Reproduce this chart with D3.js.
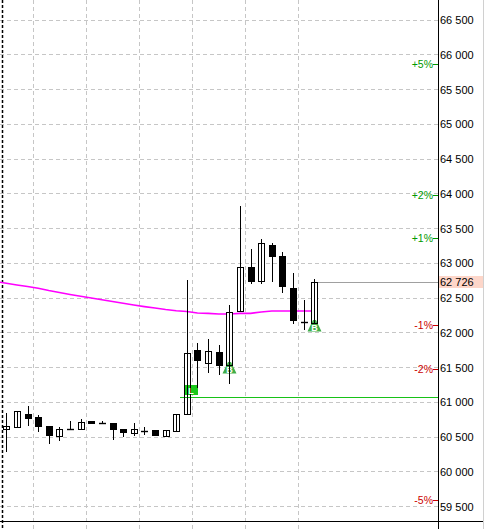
<!DOCTYPE html>
<html>
<head>
<meta charset="utf-8">
<script src="https://cdn.jsdelivr.net/npm/d3@7/dist/d3.min.js"></script>
<style>
  html, body { margin: 0; padding: 0; background: #fff; }
  svg { display: block; }
  text { font-family: "Liberation Sans", Arial, sans-serif; }
</style>
</head>
<body>
<svg id="chart" width="485" height="529"></svg>
<script>
// ---------------- data ----------------
const opens  = [60613,60642,60824,60781,60652,60504,60604,60604,60724,60709,60695,60609,60547,60584,60594,60504,60584,60820,61745,61563,61712,61534,62302,62935,62734,63256,63098,62637,62160,62130];
const highs  = [60843,60868,60940,60814,60652,60637,60724,60748,60724,60728,60695,60609,60695,60642,60594,60590,60820,62752,61846,61904,61817,62393,63817,63199,63342,63281,63155,62853,62465,62771];
const lows   = [60296,60642,60670,60584,60412,60450,60604,60604,60699,60699,60469,60512,60518,60537,60518,60504,60584,60820,61217,61433,61404,61275,62302,62714,62714,62742,62584,62138,62047,62130];
const closes = [60652,60868,60771,60656,60527,60604,60606,60714,60699,60699,60613,60561,60604,60586,60518,60590,60820,61698,61606,61727,61534,62288,62935,62742,63281,63102,62670,62177,62155,62726];
// moving average, first value belongs to the bar before the first visible one
const maStart = -1;
const maValues = [62729,62705,62681,62659,62633,62601,62573,62544,62518,62494,62469,62443,62417,62393,62370,62350,62328,62311,62299,62278,62273,62263,62263,62273,62273,62292,62306,62306,62306,62306,62306];
const yTicks = [59500,60000,60500,61000,61500,62000,62500,63000,63500,64000,64500,65000,65500,66000,66500];
const pctLevels = [5, 2, 1, -1, -2, -5];
const gridBars = [2.5, 7.5, 12.5, 17.5, 22.5, 27.5];
const separatorBar = -0.4;
const lineL = { bar: 17, price: 61069, label: "L" };
const buyMarks = [ { bar: 21, price: 61577, label: "B" }, { bar: 29, price: 62177, label: "B" } ];

// ---------------- layout ----------------
const W = 485, H = 529;
const axisX = 438, axisY = 521, rightEdge = 483;
const x = d3.scaleLinear().domain([0, 29]).range([6.3, 314.3]);
const y = d3.scaleLinear().domain([62000, 66500]).range([332.3, 19.55]);
const lastClose = closes[closes.length - 1];
const fmt = d3.formatLocale({ decimal: ".", thousands: " ", grouping: [3], currency: ["", ""] }).format(",d");
const px = v => Math.round(v) + 0.5;

const svg = d3.select("#chart");
svg.append("defs").append("clipPath").attr("id", "plot")
  .append("rect").attr("x", 0).attr("y", 0).attr("width", axisX).attr("height", axisY);

// grid
const grid = svg.append("g");
grid.selectAll("line.h").data(yTicks).join("line")
  .attr("x1", 0).attr("x2", axisX)
  .attr("y1", d => px(y(d))).attr("y2", d => px(y(d)))
  .attr("stroke", "#c6c6c6").attr("stroke-dasharray", "4,3");
grid.selectAll("line.v").data(gridBars).join("line")
  .attr("x1", d => px(x(d))).attr("x2", d => px(x(d)))
  .attr("y1", 0).attr("y2", H)
  .attr("stroke", "#c6c6c6").attr("stroke-dasharray", "4,3");
grid.append("line")
  .attr("x1", px(x(separatorBar))).attr("x2", px(x(separatorBar)))
  .attr("y1", 0).attr("y2", H)
  .attr("stroke", "#000").attr("stroke-width", 1.5).attr("stroke-dasharray", "3,2");

const plot = svg.append("g").attr("clip-path", "url(#plot)");

// moving average
const maData = maValues.map((v, k) => ({ i: k + maStart, v }));
plot.append("path").datum(maData)
  .attr("fill", "none").attr("stroke", "#ff00ff").attr("stroke-width", 1.6)
  .attr("d", d3.line().x(d => x(d.i)).y(d => y(d.v)));

const bars = opens.map((o, i) => ({ i, o, h: highs[i], l: lows[i], c: closes[i] }));
const bodyTop = d => Math.round(y(Math.max(d.o, d.c))) + 0.5;
const bodyBot = d => Math.round(y(Math.min(d.o, d.c))) + 0.5;

// white body fills
plot.selectAll("rect.wf").data(bars.filter(d => d.c > d.o)).join("rect")
  .attr("x", d => Math.round(x(d.i)) - 3 + 0.5)
  .attr("y", bodyTop)
  .attr("width", 6)
  .attr("height", d => Math.max(1, bodyBot(d) - bodyTop(d)))
  .attr("fill", "#fff");

// horizontal lines
plot.append("line")
  .attr("x1", Math.round(x(lineL.bar)) - 7).attr("x2", axisX)
  .attr("y1", px(y(lineL.price))).attr("y2", px(y(lineL.price)))
  .attr("stroke", "#17c217").attr("stroke-width", 1.2);
plot.append("line")
  .attr("x1", px(x(bars.length - 1))).attr("x2", axisX)
  .attr("y1", px(y(lastClose))).attr("y2", px(y(lastClose)))
  .attr("stroke", "#a0a0a0");

// L marker box
plot.append("rect")
  .attr("x", Math.round(x(lineL.bar)) - 3).attr("y", Math.round(y(lineL.price)) - 12)
  .attr("width", 14).attr("height", 10).attr("fill", "#19c819");

// B triangles
const tri = plot.selectAll("g.tri").data(buyMarks).join("g")
  .attr("transform", d => `translate(${Math.round(x(d.bar)) + 0.5},${Math.round(y(d.price))})`);
tri.append("path").attr("d", "M-1.5,0 L1.5,0 L7,11.5 L-7,11.5 Z").attr("fill", "#3fae49");

// candles: wicks, outlines, black bodies
const cg = plot.selectAll("g.c").data(bars).join("g");
cg.append("line")
  .attr("x1", d => px(x(d.i))).attr("x2", d => px(x(d.i)))
  .attr("y1", d => Math.round(y(d.h))).attr("y2", d => Math.round(y(d.l)) + 1)
  .attr("stroke", "#000");
cg.filter(d => Math.abs(d.c - d.o) < 15).append("line")
  .attr("x1", d => Math.round(x(d.i)) - 3).attr("x2", d => Math.round(x(d.i)) + 4)
  .attr("y1", d => px(y(d.c))).attr("y2", d => px(y(d.c)))
  .attr("stroke", "#000").attr("stroke-width", 1.4);
cg.filter(d => Math.abs(d.c - d.o) >= 15).append("rect")
  .attr("x", d => Math.round(x(d.i)) - 3 + 0.5)
  .attr("y", bodyTop)
  .attr("width", 6)
  .attr("height", d => Math.max(1, bodyBot(d) - bodyTop(d)))
  .attr("fill", d => d.c > d.o ? "none" : "#000")
  .attr("stroke", "#000");

// marker letters
plot.append("text")
  .attr("x", Math.round(x(lineL.bar)) + 4).attr("y", Math.round(y(lineL.price)) - 3.5)
  .attr("text-anchor", "middle").attr("fill", "#fff")
  .attr("font-size", 9).attr("font-weight", "bold").text(lineL.label);
tri.append("text").attr("x", 0).attr("y", 10.5)
  .attr("text-anchor", "middle").attr("fill", "#fff")
  .attr("font-size", 9).attr("font-weight", "bold").text(d => d.label);

// percent levels
const pg = svg.append("g").selectAll("g").data(pctLevels).join("g")
  .attr("transform", d => `translate(0,${Math.round(y(lastClose * (1 + d / 100)))})`);
pg.append("text").attr("x", axisX - 5).attr("y", 0).attr("dy", "0.35em")
  .attr("text-anchor", "end").attr("font-size", 10.5)
  .attr("fill", d => d > 0 ? "#009a00" : "#cc0000")
  .text(d => (d > 0 ? "+" : "") + d + "%");
pg.append("line").attr("x1", axisX - 5).attr("x2", axisX).attr("y1", 0.5).attr("y2", 0.5)
  .attr("stroke", d => d > 0 ? "#009a00" : "#cc0000");

// axes lines
svg.append("line").attr("x1", axisX + 0.5).attr("x2", axisX + 0.5).attr("y1", 0).attr("y2", H)
  .attr("stroke", "#000");
svg.append("line").attr("x1", 0).attr("x2", rightEdge).attr("y1", axisY + 0.5).attr("y2", axisY + 0.5)
  .attr("stroke", "#000");
svg.append("line").attr("x1", rightEdge + 0.5).attr("x2", rightEdge + 0.5).attr("y1", 0).attr("y2", H)
  .attr("stroke", "#d0d0d0");

// price axis
const yAxis = d3.axisRight(y).tickValues(yTicks).tickSize(0).tickPadding(2).tickFormat(fmt);
const ya = svg.append("g").attr("transform", `translate(${axisX},0)`).call(yAxis);
ya.select(".domain").remove();
ya.selectAll("text").attr("font-size", 11).attr("fill", "#000")
  .attr("font-family", "'Liberation Sans', Arial, sans-serif").attr("dy", "0.36em");

// current price label
const yc = Math.round(y(lastClose));
svg.append("rect").attr("x", axisX + 1).attr("y", yc - 6).attr("width", rightEdge - axisX - 1).attr("height", 12)
  .attr("fill", "#fdd6c9");
svg.append("text").attr("x", axisX + 2).attr("y", yc).attr("dy", "0.36em")
  .attr("font-size", 11).attr("fill", "#000").text(fmt(lastClose));
</script>
</body>
</html>
